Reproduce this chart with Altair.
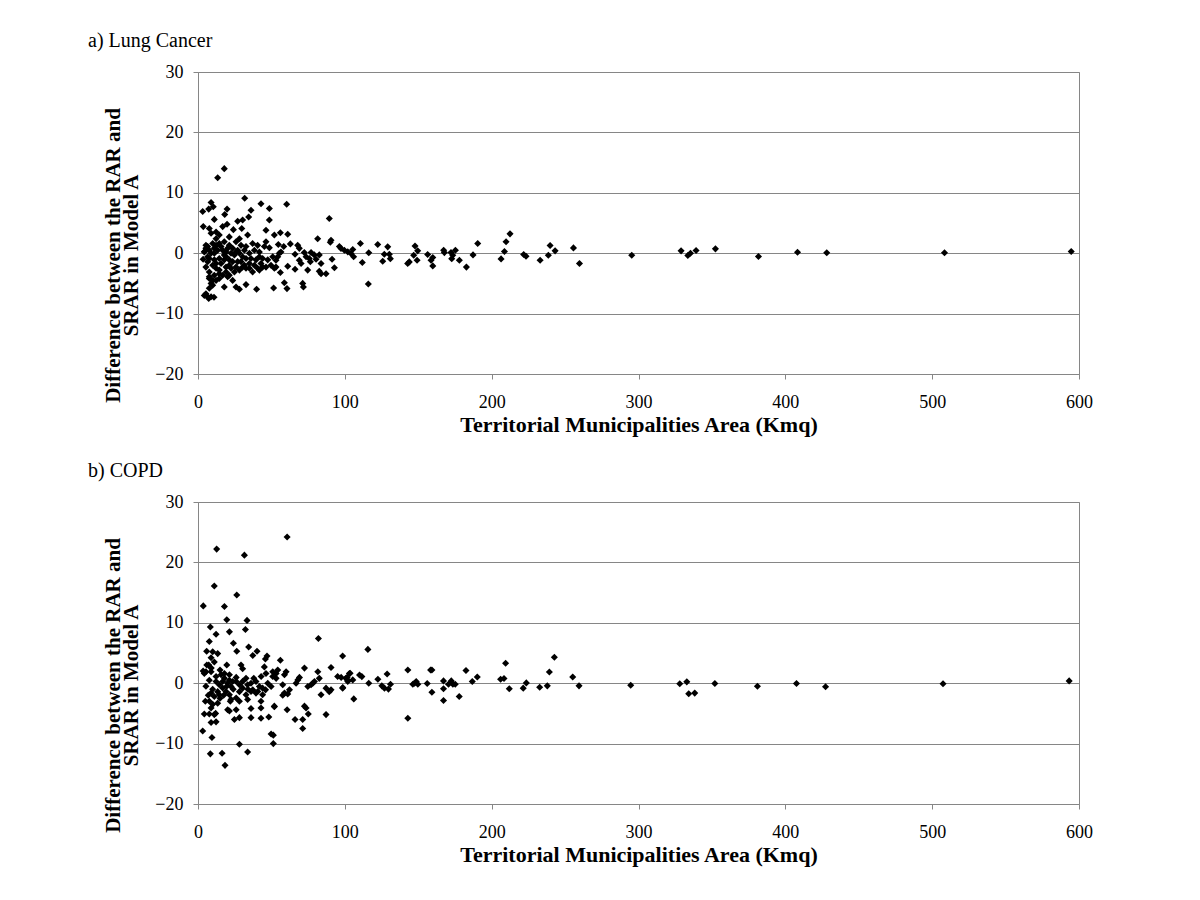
import altair as alt
import pandas as pd

# ---- a) Lung Cancer ----
lung_x = [
    13.4, 17.9, 31.8,
    8.9, 3.2, 7.3, 10.4, 19.8, 18.2, 11.1, 3.6, 7.7, 8.9, 16.8, 19.8, 24.1, 27, 30.4, 34.5, 36.1,
    29.8, 33.8, 28.2, 21.3, 12.3, 14.5, 6.6, 5.4, 11.1, 15.7, 19.1, 21.3, 23.6, 25.9, 27, 32.7,
    35, 38.4, 41.8, 45.2, 46.3, 48.6, 42.9, 48.6, 46.3, 48.6,
    6.6, 10, 12.3, 15.7, 17.9, 21.3, 23.6, 25.9, 29.3, 31.6, 35, 38.4, 40.6, 42.9, 46.3, 49.7, 52,
    7.7, 11.1, 14.5, 19.1, 21.3, 24.8, 28.2, 32.7, 37.2, 41.8, 44, 10, 8.9, 7.7, 5.4, 7.3, 8.9,
    17.9, 25.9, 28.2, 32.7, 39.9, 20.2, 23.6, 6.6,
    5.4, 7.7, 8.9, 12.3, 13.4, 16.8, 17.9, 20.2, 22.5, 24.8, 28.2, 30.4, 32.7, 36.1, 39.5, 44, 47.5,
    50.9, 7.7, 11.1, 14.5, 4.3, 12.3, 19.1, 22.5, 30.4, 35, 10, 17.9, 12.3, 14.5, 25.9, 29.3, 37.2,
    40.6, 41.8, 31.6, 11.1, 6.6, 19.1, 21.3, 27, 14.5, 16.8, 12.3, 14.5, 7.7, 10, 4.3, 10.9, 5.4,
    3.5, 7.7, 4.5,
    52, 56.1, 61.1, 54.7, 58.4, 62.9, 67.9, 69, 53.1, 54.3, 55.4, 56.5, 53.1, 56.1, 61.1, 66.1,
    66.1, 69, 70.2, 72.4, 73.6, 74.7, 76.5, 75.8, 77, 79.2, 80.4, 82.6, 83.8, 82.6, 83.8, 87.2,
    89.4, 81.5, 90.1, 90.6, 91.3, 92.9, 96.3, 60.4, 60.6, 71.3, 71.8, 51.5, 58.8,
    97.4, 99.7, 102, 104.2, 106, 105.4, 110.6, 111.9, 116.3, 116, 122.4, 125.8, 126.9, 129.2,
    130.3, 131, 142.8, 143.9, 146.9, 147.8, 149.2, 149.6, 156.4, 158.7, 159.9, 159.9, 167.3,
    167.8, 172.3, 172.8, 173.5, 175.3, 178, 182.8, 187.3, 190.5, 206.4, 208.7, 209.8, 212.5,
    221.8, 223.4, 233, 238.6, 239.8, 243.2, 255.7, 259.8, 295.4,
    329, 333.6, 335.4, 339.2, 352.4, 381.7, 408.3, 428.2, 508.4, 594.7,
]
lung_y = [
    12.5, 14.0, 9.1,
    8.4, 6.9, 7.3, 7.7, 7.3, 6.4, 5.6, 4.4, 4.1, 3.3, 4.4, 4.8, 3.9, 5.3, 5.5, 6.0, 7.1,
    4.1, 3.0, 2.4, 2.7, 2.4, 1.6, 1.1, 1.3, 0.8, 1.1, 0.2, 1.3, 0.8, 0.2, 0.5, 1.1,
    0, 0.5, -0.6, 1.1, 1.9, 0.9, 8.2, 7.4, 3.8, 5.5,
    -1.4, -2.0, -2.5, -1.7, -1.1, -2.0, -1.4, -2.3, -1.4, -2.0, -1.7, -2.0, -2.5, -1.7, -2.3, -2.0, -2.5,
    -3.1, -3.65, -3.4, -3.1, -3.65, -3.1, -2.8, -2.5, -3.1, -2.8, -2.3, -4.5, -5.0, -5.8, -6.7, -7.5, -7.2,
    -5.6, -5.6, -5.97, -5.2, -5.97, -3.9, -4.5, -7.2,
    0.8, 0.5, 0, 1.3, 0.5, 0.5, -0.28, 0.8, 0, -0.28, 0, -0.6, -0.88, -0.88, -1.1, -0.88, -1.1,
    -0.6, -0.88, -1.1, -0.88, 0.2, -1.7, -2.3, -2.5, -2.3, -2.5, 1.6, 1.9, 3.5, 3.0, 1.9, 1.3, 1.6,
    1.3, 0.2, 0.5, 0, -0.6, -0.6, -1.1, -1.4, -2.8, -3.65, -4.5, -4.2, -4.2, -5.3, -7.0, -7.3, -2.3,
    -1.0, -3.9, 0.3,
    3.0, 3.4, 3.15, 1.44, 1.1, 1.54, 1.3, 0.8, -1.16, -0.6, 0, 0.2, -2.3, -3.2, -2.15, -0.17,
    -2.65, -1.16, -1.7, 0.11, -0.6, -2.8, -1.4, -0.88, 0.11, -0.28, -1.0, -0.28, -1.7, -3.0, -3.4, -3.4,
    5.75, 2.4, 1.8, 2.15, -1.0, -2.4, 1.1, 8.1, -5.86, -5.0, -5.6, -5.75, -4.9,
    0.77, 0.5, 0.22, -0.06, -0.6, 0.6, 1.6, -1.55, 0.06, -5.1, 1.44, -1.33, -0.17, 1.05,
    -0.17, -0.9, -1.7, -1.44, -0.33, 1.2, -1.16, 0.39, -0.22, -1.16, -0.72, -2.1, 0.5,
    0.1, 0.1, -0.9, -0.33, 0.5, -1.16, -2.3, -0.28, 1.6, -0.94, 0.28, 1.9, 3.2,
    -0.22, -0.5, -1.16, -0.33, 1.27, 0.39, 0.88, -1.7, -0.33,
    0.39, -0.39, 0, 0.44, 0.72, -0.55, 0.16, 0.06, 0.06, 0.28,
]

# ---- b) COPD ----
copd_x = [
    12.7, 31.6, 11.1, 26.4, 3.6, 18, 19.6, 33.4, 8.4, 12.3, 21.4, 32.3, 7.7, 24.1, 26.4, 34.5,
    40.2, 37.3, 47, 45.9, 5.9, 10, 13.4, 8.9, 11.1, 19.6, 29.3, 30.4, 45.2, 46.3, 7.3, 5.4, 4.3,
    8.9, 15, 15.7, 18, 21.4, 26, 32.7, 36.1, 39.5, 41.8, 47.5, 50.9, 12.3, 14.5, 16.8, 20.2, 22.5,
    23.6, 28.2, 30.4, 33.8, 37.3, 40.7, 44, 49.8, 8.9, 11.1, 14.5, 19.1, 21.4, 26, 32.7, 36.1,
    39.5, 44, 7.7, 13.4, 22.5, 28.2, 33.8, 42.9, 42.9, 52, 8.9, 20.2, 26, 36.1, 4.3, 7.7, 11.1,
    21.4, 24.8, 28.2, 36.1, 42.9, 48.2, 8.9, 12.3, 3.2, 9.5, 28.2, 33.8, 8.4, 16.4, 18.4, 49.8,
    51.3, 51.3,
    5.4, 7.7, 10, 12.3, 13.4, 16.8, 18, 19.6, 21.4, 24, 26, 28.2, 30.4, 15, 17.5, 22, 10, 34, 38,
    43, 46, 3.5, 6, 9, 12, 5, 7,
    60.7, 82, 98.5, 56.1, 50.9, 53.2, 54.3, 60, 58.9, 53.2, 57.7, 58.9, 57.7, 61.1, 62.3, 66.8,
    68, 69.1, 72.5, 74.8, 77, 78.2, 79.3, 81.6, 82.6, 83.8, 87.2, 89.4, 90.6, 90.6, 95.1, 98.5,
    100.7, 103.1, 101.9, 60.7, 66.1, 71.3, 71.3, 72.5, 73.6, 75.1, 87.2, 52,
    97.5, 98.6,
    101.6, 102, 103.6, 105.4, 106.1, 110, 111.6, 115.7, 116.3, 122.5, 125.2, 127, 128.8, 129.7,
    131.1, 142.9, 142.9, 146.3, 147.5, 148.6, 149.7, 156.1, 158.4, 159.3, 159.3, 167.2, 167.2,
    167.2, 170.6, 172.5, 173.6, 175.2, 177.9, 182.5, 186.8, 190.2, 206.1, 208.4, 209.5, 212,
    221.5, 223.6, 232.7, 237.9, 239.3, 242.7, 255.2, 259.5, 294.7,
    328.1, 332.9, 334.2, 338.3, 352, 381, 407.6, 427.4, 507.4, 593.3,
]
copd_y = [
    22.2, 21.2, 16.1, 14.6, 12.8, 12.7, 10.5, 10.4, 9.3, 8.1, 8.5, 8.9, 6.9, 6.6, 5.3, 6.0,
    5.3, 4.6, 4.5, 4.0, 5.3, 5.2, 4.9, 4.2, 3.5, 3.0, 3.0, 2.4, 2.7, 1.6, 3.0, 1.9, 1.6,
    1.9, 2.2, 1.4, 0.8, 1.4, 0.96, 0.8, 0, 0.27, -0.55, 0, 1.1, 0.27, -0.27, 0.27, 0, -0.55,
    0.27, -0.27, -0.82, -0.27, -1.1, -1.37, -0.82, -0.55, -1.64, -2.2, -1.9, -1.37, -1.9, -2.46, -1.9, -1.37,
    -1.64, -1.9, -3.0, -3.3, -2.7, -3.0, -2.7, -3.0, -4.1, -3.8, -4.1, -4.4, -4.4, -4.2, -5.1, -5.1, -5.2,
    -4.6, -6.0, -5.7, -5.7, -5.8, -5.6, -6.5, -6.4, -7.9, -9.0, -10.1, -11.4, -11.7, -11.6, -13.6, -8.4,
    -8.6, -10.0,
    -0.5, 0.5, -1.0, 1.1, -1.4, -0.8, 1.6, -0.5, 0.5, -1.0, 0.3, -1.4, 0.3, -2.5, -2.0, -3.0, -3.5, -1.0, 0.8,
    1.1, -1.1, 2.0, 3.0, 2.5, -5.0, -3.0, -2.0,
    24.2, 7.4, 4.5, 3.8, 1.9, 1.6, 2.2, 1.9, 1.4, 0.8, -0.27, -1.64, -2.0, -1.8, -1.1, 0,
    0.55, 0.96, 2.5, -0.55, -0.27, 0, 0.27, 1.9, 0.8, -1.9, -0.82, -1.4, -1.1, 2.6, 1.1, -0.82,
    0.8, 1.6, 0.55, -4.4, -6.0, -6.0, -7.5, -3.8, -4.1, -5.1, -5.2, -3.9,
    0.96, -0.71,
    0.98, 0.27, 1.64, 0.55, -2.6, 1.37, 1.09, 5.6, 0, 0.66, -0.44, -0.82, 1.53, -0.98,
    -0.16, -5.8, 2.2, -0.16, 0, 0.27, -0.16, -0.05, 2.2, 2.2, -1.5, 0.38, -0.93,
    -2.85, -0.16, 0.38, -0.16, -0.16, -2.2, 2.1, 0.27, 1.04, 0.66, 0.77, 3.3, -0.93,
    -0.82, 0.05, -0.66, -0.44, 1.86, 4.3, 1.04, -0.44, -0.33,
    -0.1, 0.22, -1.75, -1.64, -0.05, -0.5, -0.05, -0.6, -0.1, 0.38,
]

x_ticks = [0, 100, 200, 300, 400, 500, 600]
y_ticks = [-20, -10, 0, 10, 20, 30]

GRAY = "#868686"
FONT = "Liberation Serif"


def panel(xs, ys, label):
    df = pd.DataFrame({"area": xs, "diff": ys})
    return (
        alt.Chart(df)
        .mark_point(shape="diamond", filled=True, color="black", size=50, opacity=1)
        .encode(
            x=alt.X(
                "area:Q",
                scale=alt.Scale(domain=[0, 600], nice=False, zero=False),
                axis=alt.Axis(
                    values=x_ticks,
                    title="Territorial Municipalities Area (Kmq)",
                    titleFontSize=22,
                    grid=False,
                    tickSize=5,
                    labelPadding=14,
                    titlePadding=3,
                ),
            ),
            y=alt.Y(
                "diff:Q",
                scale=alt.Scale(domain=[-20, 30], nice=False, zero=False),
                axis=alt.Axis(
                    values=y_ticks,
                    title=["Difference between the RAR and", "SRAR in Model A"],
                    titleFontSize=21,
                    titleLineHeight=18,
                    titleY=183,
                    grid=True,
                    tickSize=5,
                    labelPadding=10,
                    titlePadding=13,
                ),
            ),
        )
        .properties(
            width=881,
            height=302,
            title=alt.TitleParams(
                label,
                anchor="start",
                frame="group",
                dx=-110,
                offset=12,
                fontSize=20,
                fontWeight="normal",
                font=FONT,
                color="black",
            ),
        )
    )


chart = (
    alt.vconcat(panel(lung_x, lung_y, "a) Lung Cancer"), panel(copd_x, copd_y, "b) COPD"), spacing=24)
    .properties(padding={"left": 79, "top": 22, "right": 10, "bottom": 10})
    .configure_view(stroke=GRAY, strokeWidth=1)
    .configure_axis(
        labelFont=FONT,
        titleFont=FONT,
        labelFontSize=18,
        titleFontWeight="bold",
        labelColor="black",
        titleColor="black",
        domainColor=GRAY,
        tickColor=GRAY,
        gridColor=GRAY,
        gridWidth=1,
        domainWidth=1,
    )
    .configure_axisY(labelFlush=False)
    .configure_axisX(labelFlush=False)
)

chart.save("out.html", embed_options={"renderer": "svg", "actions": False})
